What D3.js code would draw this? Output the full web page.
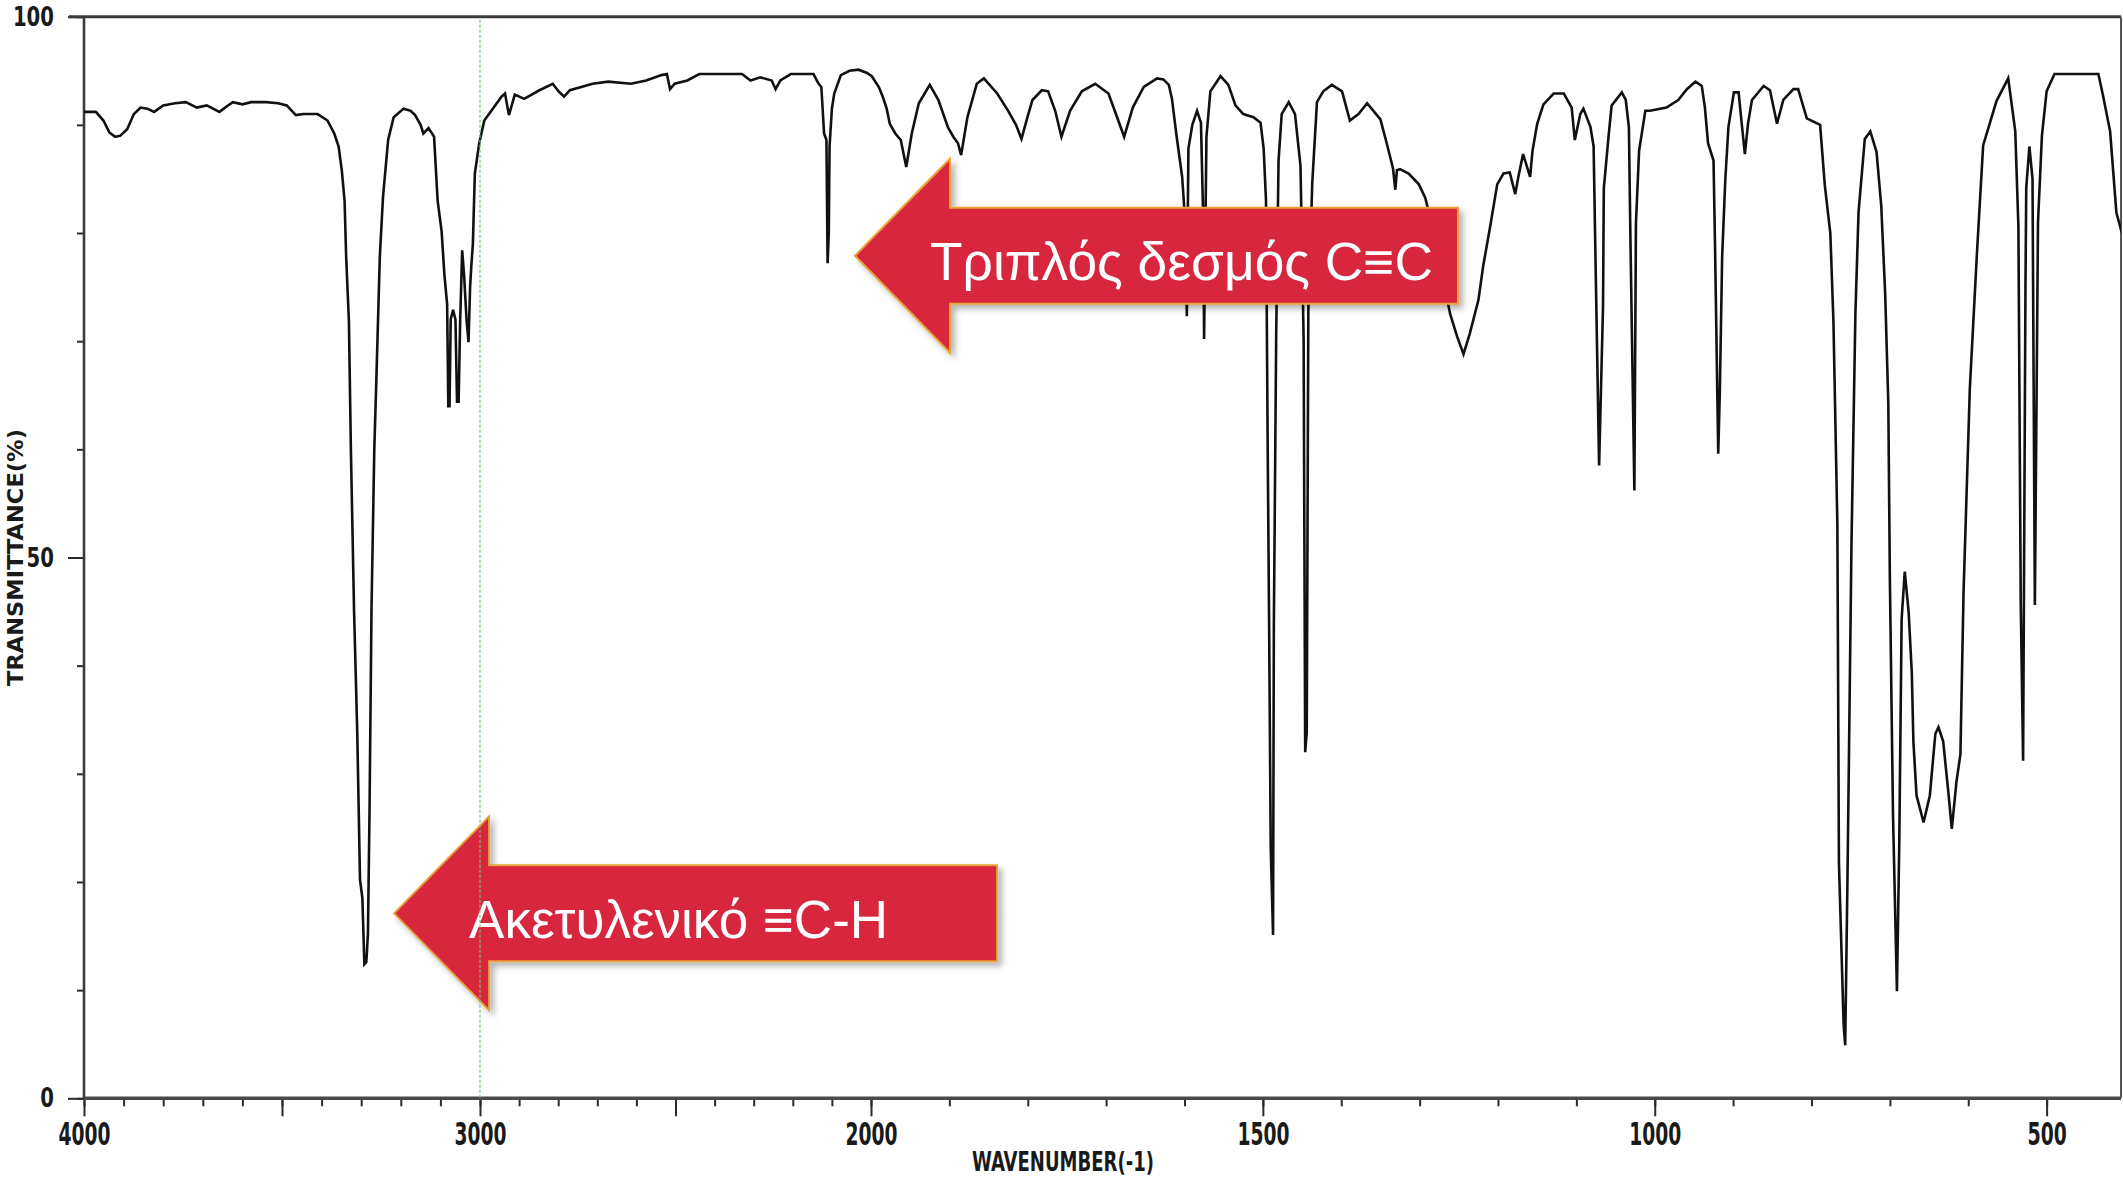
<!DOCTYPE html>
<html>
<head>
<meta charset="utf-8">
<script src="https://cdn.jsdelivr.net/npm/d3@7"></script>
<style>
  body { margin: 0; background: #fff; }
  svg { display: block; }
</style>
</head>
<body>
<div id="chart"></div>
<script>
// IR spectrum: wavenumber (cm-1) vs transmittance (%)
const wavenumbers = [
  4000, 3970, 3951, 3936, 3921, 3908, 3891, 3874, 3857, 3840, 3823, 3800, 3770, 3743, 3715, 3690,
  3658, 3640, 3624, 3600, 3578, 3540, 3510, 3488, 3465, 3445, 3410, 3385, 3368, 3357, 3349, 3342,
  3338, 3331, 3326, 3318, 3310, 3303, 3297, 3292, 3287, 3283, 3279, 3274, 3267, 3262, 3253, 3245,
  3232, 3218, 3193, 3175, 3164, 3150, 3143, 3130, 3116, 3107, 3097, 3090, 3083, 3080, 3077, 3074,
  3068, 3062, 3058, 3054, 3050, 3045, 3040, 3034, 3029, 3025, 3022, 3018, 3013, 3002, 2989, 2965,
  2945, 2936, 2926, 2911, 2887, 2848, 2814, 2799, 2785, 2770, 2712, 2672, 2614, 2575, 2536, 2522,
  2514, 2502, 2470, 2439, 2380, 2330, 2308, 2283, 2254, 2244, 2232, 2205, 2147, 2134, 2127, 2120,
  2114, 2111, 2108, 2106, 2100, 2094, 2077, 2055, 2032, 2010, 1999, 1990, 1985, 1980, 1976, 1969,
  1962, 1955, 1948, 1939, 1925, 1914, 1902, 1895, 1889, 1885, 1877, 1865, 1856, 1839, 1825, 1815,
  1808, 1800, 1794, 1782, 1774, 1765, 1757, 1746, 1731, 1714, 1697, 1686, 1677, 1666, 1652, 1635,
  1627, 1620, 1616, 1610, 1603, 1599, 1597, 1595, 1590, 1584, 1579, 1576, 1575, 1572, 1567, 1554,
  1544, 1535, 1525, 1512, 1503, 1499, 1496, 1494, 1492, 1490, 1487, 1486, 1483, 1480, 1476, 1467,
  1459, 1452, 1448, 1446, 1444, 1442, 1437, 1431, 1423, 1412, 1399, 1389, 1378, 1367, 1359, 1350,
  1342, 1334, 1331, 1329, 1325, 1314, 1301, 1293, 1285, 1275, 1268, 1261, 1252, 1244, 1236, 1225,
  1219, 1210, 1201, 1193, 1185, 1178, 1174, 1168, 1159, 1156, 1150, 1142, 1129, 1116, 1106, 1102,
  1095, 1091, 1082, 1078, 1076, 1071, 1066, 1065, 1059, 1055, 1042, 1037, 1033, 1031, 1026, 1024,
  1020, 1012, 1006, 985, 970, 959, 948, 940, 936, 932, 925, 923, 919, 917, 914, 910,
  906, 899, 893, 889, 885, 881, 876, 861, 853, 844, 836, 823, 817, 806, 789, 783,
  776, 772, 767, 765, 759, 757, 754, 749, 744, 740, 732, 725, 717, 711, 706, 702,
  700, 696, 691, 688, 685, 681, 676, 672, 670, 666, 657, 649, 642, 638, 632, 625,
  621, 615, 610, 606, 598, 589, 581, 564, 549, 540, 536, 533, 530, 527, 526, 522,
  518, 515, 511, 506, 500, 490, 470, 450, 434, 428, 419, 411, 404
];
const transmittance = [
  91.2, 91.2, 90.4, 89.3, 88.9, 89.0, 89.6, 91.0, 91.6, 91.5, 91.2, 91.8, 92.0, 92.1, 91.6, 91.8,
  91.2, 91.7, 92.1, 91.9, 92.1, 92.1, 92.0, 91.8, 90.9, 91.0, 91.0, 90.4, 89.2, 88.0, 85.8, 83.0,
  77.8, 71.8, 59.9, 45.0, 33.9, 20.2, 18.5, 12.4, 12.6, 15.2, 26.5, 45.2, 59.9, 66.1, 77.8, 83.3,
  88.6, 90.7, 91.5, 91.3, 90.9, 90.0, 89.2, 89.7, 88.9, 83.0, 80.2, 76.2, 73.4, 64.0, 64.0, 72.0,
  72.9, 72.0, 64.4, 64.4, 72.0, 78.4, 76.0, 72.0, 69.9, 75.0, 76.9, 79.0, 85.5, 88.3, 90.4, 91.6,
  92.6, 92.9, 90.9, 92.8, 92.4, 93.2, 93.8, 93.1, 92.6, 93.2, 93.8, 94.0, 93.8, 94.1, 94.6, 94.7,
  93.3, 93.8, 94.1, 94.7, 94.7, 94.7, 94.1, 94.4, 94.1, 93.3, 94.1, 94.7, 94.7, 93.8, 93.5, 89.2,
  88.6, 77.2, 80.0, 88.0, 91.5, 92.9, 94.6, 95.0, 95.1, 94.8, 94.5, 93.5, 92.6, 91.5, 90.1, 89.2,
  88.6, 86.1, 89.2, 92.0, 93.7, 92.3, 89.8, 88.9, 88.3, 87.2, 90.7, 93.8, 94.3, 92.9, 91.3, 90.0,
  88.7, 90.8, 92.3, 93.2, 93.1, 91.3, 88.9, 91.3, 93.1, 93.8, 92.9, 90.7, 88.9, 91.6, 93.5, 94.3,
  94.2, 93.7, 92.4, 88.9, 85.2, 80.9, 72.3, 87.8, 90.0, 91.3, 90.2, 80.9, 70.2, 88.9, 93.1, 94.5,
  93.7, 91.8, 91.0, 90.7, 90.2, 87.8, 83.0, 61.6, 43.5, 23.2, 15.1, 43.5, 70.7, 86.7, 91.0, 92.1,
  91.0, 86.2, 70.2, 32.0, 33.9, 72.8, 84.6, 92.1, 93.1, 93.7, 93.1, 90.4, 91.0, 92.0, 91.3, 90.5,
  88.3, 86.0, 84.0, 85.8, 85.9, 85.5, 84.5, 83.3, 81.0, 77.0, 75.0, 72.5, 70.4, 68.8, 70.7, 73.8,
  76.9, 80.6, 84.5, 85.5, 85.6, 83.6, 85.2, 87.3, 85.2, 87.6, 90.1, 91.9, 92.9, 92.9, 91.6, 88.6,
  91.0, 91.5, 89.8, 88.0, 79.3, 58.5, 73.2, 84.1, 88.9, 91.8, 93.0, 92.3, 89.8, 79.3, 56.2, 80.9,
  87.6, 91.3, 91.3, 91.6, 92.3, 93.3, 94.0, 93.6, 91.6, 88.3, 86.7, 78.4, 59.6, 65.2, 77.8, 84.9,
  89.8, 93.0, 93.0, 90.1, 87.3, 90.1, 92.3, 93.6, 93.2, 90.1, 92.3, 93.3, 93.3, 90.6, 90.0, 84.4,
  80.0, 71.8, 53.0, 21.8, 6.8, 4.9, 20.9, 51.2, 72.5, 81.9, 88.7, 89.4, 87.5, 82.5, 74.4, 64.3,
  48.0, 26.2, 9.9, 23.7, 44.3, 48.7, 44.9, 39.3, 33.0, 28.0, 25.5, 28.0, 33.7, 34.3, 33.0, 28.0,
  24.9, 29.3, 31.8, 46.8, 65.6, 78.0, 88.1, 92.2, 94.3, 89.4, 80.6, 45.6, 31.2, 75.0, 84.2, 88.0,
  85.0, 45.6, 81.0, 89.0, 93.1, 94.7, 94.7, 94.7, 94.7, 92.7, 89.4, 81.9, 80.0
];

// axis ticks
const majorTicks = [4000, 3500, 3000, 2500, 2000, 1500, 1000, 500];
const xTickLabels = ["4000", "", "3000", "", "2000", "1500", "1000", "500"];
const minorTicks = d3.range(500, 4001, 100);
const yMinorTicks = d3.range(0, 101, 10);
const yMajorTicks = [0, 50, 100];
const yTickLabels = ["0", "50", "100"];

// arrow annotations (tip position in data units)
const annotationLabels = ["Τριπλός δεσμός C≡C", "Ακετυλενικό ≡C-H"];
const annotationWavenumbers = [2041, 3217];
const annotationTransmittance = [77.9, 17.1];

const data = wavenumbers.map((w, i) => ({ wn: w, t: transmittance[i] }));

const width = 2123, height = 1179;
const plot = { left: 84, right: 2121, top: 16.7, bottom: 1098.3 };

const svg = d3.select("#chart").append("svg")
  .attr("width", width)
  .attr("height", height)
  .style("background", "#fff");

// x scale is expanded 2x below 2000 cm-1, like the instrument chart
const x = d3.scaleLinear().domain([4000, 3000, 2000, 400]).range([plot.left, 480, 871, 2125]);
const y = d3.scaleLinear().domain([0, 100]).range([plot.bottom, plot.top]);

const tickFont = "'Liberation Sans Narrow', 'DejaVu Sans Condensed', 'Arial Narrow', sans-serif";

function styleTicks(g) {
  g.select(".domain").remove();
  g.selectAll(".tick line").attr("stroke", "#2a2a2a").attr("stroke-width", 2);
}

// bottom axis: minor + major ticks
svg.append("g")
  .attr("transform", "translate(0," + plot.bottom + ")")
  .call(d3.axisBottom(x).tickValues(minorTicks).tickSize(8).tickFormat(""))
  .call(styleTicks);

let xMajor = svg.append("g")
  .attr("transform", "translate(0," + plot.bottom + ")")
  .call(d3.axisBottom(x).tickValues(majorTicks).tickSize(18).tickPadding(6)
    .tickFormat(d => xTickLabels[majorTicks.indexOf(d)]))
  .call(styleTicks);

xMajor.selectAll(".tick text")
  .attr("fill", "#1a1a1a")
  .style("font-family", tickFont)
  .style("font-weight", "bold")
  .style("font-size", "32px")
  .each(function() {
    let t = d3.select(this);
    let n = t.text().length;
    if (n) t.attr("textLength", n * 13).attr("lengthAdjust", "spacingAndGlyphs");
  });

// left axis
svg.append("g")
  .attr("transform", "translate(" + plot.left + ",0)")
  .call(d3.axisLeft(y).tickValues(yMinorTicks).tickSize(7).tickFormat(""))
  .call(styleTicks);

let yMajor = svg.append("g")
  .attr("transform", "translate(" + plot.left + ",0)")
  .call(d3.axisLeft(y).tickValues(yMajorTicks).tickSize(16).tickPadding(14)
    .tickFormat(d => yTickLabels[yMajorTicks.indexOf(d)]))
  .call(styleTicks);

yMajor.selectAll(".tick text")
  .attr("fill", "#1a1a1a")
  .style("font-family", tickFont)
  .style("font-weight", "bold")
  .style("font-size", "27px")
  .each(function() {
    let t = d3.select(this);
    t.attr("textLength", t.text().length * 13.7).attr("lengthAdjust", "spacingAndGlyphs");
  });

// frame
svg.append("line")
  .attr("x1", 69).attr("x2", plot.right)
  .attr("y1", plot.top).attr("y2", plot.top)
  .attr("stroke", "#3a3a3a").attr("stroke-width", 3);
svg.append("line")
  .attr("x1", plot.left).attr("x2", plot.right)
  .attr("y1", plot.bottom).attr("y2", plot.bottom)
  .attr("stroke", "#4a4a4a").attr("stroke-width", 3.4);
svg.append("line")
  .attr("x1", plot.left).attr("x2", plot.left)
  .attr("y1", plot.top).attr("y2", plot.bottom)
  .attr("stroke", "#3a3a3a").attr("stroke-width", 2.6);
svg.append("line")
  .attr("x1", plot.right).attr("x2", plot.right)
  .attr("y1", plot.top).attr("y2", plot.bottom)
  .attr("stroke", "#555").attr("stroke-width", 2);

// axis titles
svg.append("text")
  .attr("transform", "translate(23," + y(50) + ") rotate(-90)")
  .attr("text-anchor", "middle")
  .attr("textLength", 257)
  .attr("lengthAdjust", "spacingAndGlyphs")
  .style("font-family", tickFont)
  .style("font-weight", "bold")
  .style("font-size", "22px")
  .attr("fill", "#1a1a1a")
  .text("TRANSMITTANCE(%)");

svg.append("text")
  .attr("x", 972)
  .attr("y", 1171)
  .attr("textLength", 182)
  .attr("lengthAdjust", "spacingAndGlyphs")
  .style("font-family", tickFont)
  .style("font-weight", "bold")
  .style("font-size", "26px")
  .attr("fill", "#1a1a1a")
  .text("WAVENUMBER(-1)");

// spectrum
svg.append("clipPath").attr("id", "plot-clip")
  .append("rect")
  .attr("x", plot.left).attr("y", 0)
  .attr("width", plot.right - plot.left).attr("height", plot.bottom);

let line = d3.line()
  .x(d => x(d.wn))
  .y(d => y(d.t));

svg.append("path")
  .datum(data)
  .attr("clip-path", "url(#plot-clip)")
  .attr("fill", "none")
  .attr("stroke", "#111")
  .attr("stroke-width", 2.6)
  .attr("stroke-linejoin", "miter")
  .attr("d", line);

// arrows
let defs = svg.append("defs");
let shadow = defs.append("filter").attr("id", "arrow-shadow")
  .attr("x", "-10%").attr("y", "-20%").attr("width", "130%").attr("height", "150%");
shadow.append("feDropShadow")
  .attr("dx", 4).attr("dy", 4).attr("stdDeviation", 3)
  .attr("flood-color", "#000").attr("flood-opacity", 0.3);

const arrowLen = 603, headLen = 95, headHalf = 97, bodyHalf = 48;
const labelWidths = [503, 419];

annotationLabels.forEach((label, i) => {
  let tx = x(annotationWavenumbers[i]);
  let ty = y(annotationTransmittance[i]);
  let pts = [
    [tx, ty],
    [tx + headLen, ty - headHalf],
    [tx + headLen, ty - bodyHalf],
    [tx + arrowLen, ty - bodyHalf],
    [tx + arrowLen, ty + bodyHalf],
    [tx + headLen, ty + bodyHalf],
    [tx + headLen, ty + headHalf]
  ];

  svg.append("path")
    .attr("d", "M" + pts.map(p => p.join(",")).join("L") + "Z")
    .attr("fill", "#d8263e")
    .attr("stroke", "#e8a13a")
    .attr("stroke-width", 2)
    .attr("filter", "url(#arrow-shadow)");

  svg.append("text")
    .attr("x", tx + 75)
    .attr("y", ty + 24.5)
    .attr("textLength", labelWidths[i])
    .attr("lengthAdjust", "spacingAndGlyphs")
    .style("font-family", "'Liberation Sans', Arial, Helvetica, sans-serif")
    .style("font-size", "53px")
    .attr("fill", "#fff")
    .text(label);
});

// green marker at 3000 cm-1 (drawn on top, as in the reference)
svg.append("line")
  .attr("x1", x(3000)).attr("x2", x(3000))
  .attr("y1", plot.top + 3).attr("y2", plot.bottom)
  .attr("stroke", "#7cbf7c")
  .attr("stroke-width", 1.2)
  .attr("stroke-dasharray", "3,2");
</script>
</body>
</html>
